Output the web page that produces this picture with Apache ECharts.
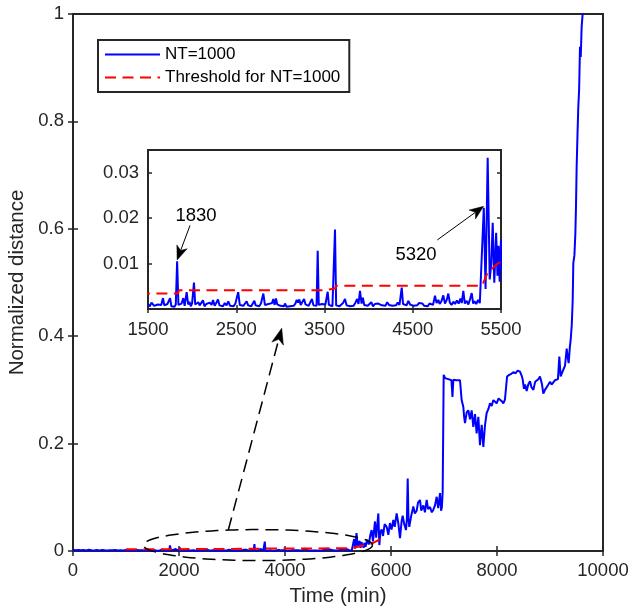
<!DOCTYPE html>
<html>
<head>
<meta charset="utf-8">
<script src="https://cdn.jsdelivr.net/npm/echarts@6/dist/echarts.min.js"></script>
<style>html,body{margin:0;padding:0;background:#fff}#c{width:628px;height:607px}</style>
</head>
<body>
<div id="c"></div>
<script>
// ---- data (time in minutes, normalized distance) ----
const ntSeries = [
[0,0.0025],[50,0.0015],[100,0.002],[150,0.0012],[200,0.0018],[250,0.001],[300,0.0022],[350,0.0014],[400,0.0009],[450,0.0017],
[500,0.0011],[550,0.002],[600,0.0013],[650,0.0008],[700,0.0016],[750,0.0012],[800,0.0021],[850,0.0009],[900,0.0015],[950,0.0011],
[1000,0.0018],[1050,0.001],[1100,0.0014],[1150,0.0008],[1200,0.0019],[1250,0.0012],[1300,0.0016],[1350,0.0007],[1400,0.0013],[1450,0.0009],
[1500,0.0011],[1520,0.0006],[1540,0.0014],[1557,0.0016],[1570,0.0007],[1590,0.0005],[1610,0.0010],[1630,0.0006],[1650,0.0009],[1670,0.0024],
[1685,0.0008],[1700,0.0006],[1720,0.0011],[1735,0.0007],[1750,0.0024],[1765,0.0006],[1780,0.0009],[1800,0.0005],[1815,0.0010],[1830,0.0105],
[1845,0.0009],[1860,0.0006],[1880,0.0012],[1900,0.0024],[1915,0.0007],[1938,0.0037],[1955,0.0010],[1970,0.0016],[1985,0.0006],[2000,0.0013],
[2021,0.0058],[2035,0.0010],[2050,0.0007],[2070,0.0015],[2085,0.0008],[2100,0.0012],[2123,0.0019],[2140,0.0006],[2160,0.0011],[2180,0.0008],
[2200,0.0014],[2220,0.0009],[2237,0.0020],[2255,0.0007],[2270,0.0012],[2293,0.0021],[2310,0.0008],[2330,0.0011],[2350,0.0006],[2370,0.0013],
[2390,0.0008],[2410,0.0017],[2430,0.0007],[2450,0.0010],[2470,0.0006],[2490,0.0012],[2505,0.0008],[2522,0.0037],[2540,0.0009],[2560,0.0013],
[2580,0.0007],[2600,0.0011],[2618,0.0017],[2635,0.0008],[2650,0.0012],[2670,0.0006],[2690,0.0010],[2705,0.0018],[2720,0.0008],[2740,0.0011],
[2760,0.0006],[2780,0.0012],[2795,0.0008],[2807,0.0034],[2825,0.0009],[2845,0.0006],[2865,0.0011],[2885,0.0008],[2905,0.0013],[2920,0.0022],
[2935,0.0009],[2950,0.0023],[2965,0.0010],[2985,0.0013],[3000,0.0007],[3020,0.0011],[3040,0.0006],[3052,0.0012],[3070,0.0005],[3090,0.0009],
[3110,0.0006],[3130,0.0010],[3150,0.0007],[3170,0.0012],[3185,0.0020],[3200,0.0014],[3215,0.0021],[3230,0.0009],[3250,0.0012],[3268,0.0022],
[3285,0.0010],[3300,0.0014],[3320,0.0007],[3340,0.0011],[3358,0.0022],[3375,0.0008],[3395,0.0010],[3410,0.0007],[3423,0.0128],[3435,0.0009],
[3450,0.0006],[3470,0.0011],[3490,0.0007],[3510,0.0010],[3536,0.0038],[3550,0.0009],[3570,0.0013],[3590,0.0006],[3605,0.0010],[3619,0.0175],
[3632,0.0008],[3650,0.0011],[3670,0.0006],[3690,0.0009],[3710,0.0013],[3732,0.0022],[3750,0.0008],[3770,0.0012],[3790,0.0006],[3810,0.0010],
[3830,0.0007],[3850,0.0014],[3870,0.0022],[3885,0.0011],[3902,0.0040],[3920,0.0012],[3935,0.0025],[3950,0.0009],[3970,0.0013],[3990,0.0007],
[4010,0.0010],[4030,0.0015],[4050,0.0006],[4070,0.0011],[4090,0.0007],[4110,0.0012],[4130,0.0016],[4150,0.0008],[4170,0.0012],[4190,0.0007],
[4210,0.0015],[4230,0.0009],[4250,0.0013],[4270,0.0007],[4290,0.0011],[4310,0.0008],[4330,0.0014],[4350,0.0009],[4375,0.0047],[4390,0.0011],
[4410,0.0015],[4430,0.0008],[4450,0.0018],[4470,0.0010],[4490,0.0014],[4510,0.0007],[4530,0.0011],[4550,0.0008],[4570,0.0013],[4590,0.0009],
[4610,0.0012],[4630,0.0007],[4650,0.0010],[4670,0.0006],[4690,0.0012],[4710,0.0015],[4730,0.0009],[4752,0.0029],[4770,0.0013],[4790,0.0020],
[4805,0.0011],[4825,0.0017],[4846,0.0030],[4865,0.0012],[4885,0.0020],[4903,0.0034],[4920,0.0014],[4940,0.0009],[4960,0.0016],[4980,0.0011],
[5000,0.0019],[5020,0.0012],[5040,0.0023],[5055,0.0013],[5073,0.0040],[5090,0.0012],[5110,0.0018],[5130,0.0010],[5150,0.0022],[5168,0.0035],
[5185,0.0012],[5200,0.0017],[5220,0.0011],[5240,0.0020],[5260,0.0013],[5281,0.0012],[5305,0.0223],[5325,0.0044],[5349,0.0333],[5372,0.0065],
[5390,0.0100],[5406,0.0190],[5424,0.0058],[5445,0.0168],[5460,0.0073],[5472,0.0139],[5485,0.0060],[5500,0.0153],[5520,0.008],[5550,0.021],
[5580,0.012],[5610,0.030],[5635,0.039],[5660,0.018],[5698,0.055],[5720,0.025],[5761,0.070],[5780,0.011],[5800,0.035],[5824,0.040],
[5850,0.028],[5880,0.050],[5918,0.045],[5950,0.030],[5980,0.052],[6010,0.040],[6044,0.058],[6070,0.045],[6107,0.070],[6140,0.050],
[6170,0.024],[6200,0.055],[6220,0.066],[6250,0.050],[6283,0.039],[6300,0.060],[6315,0.135],[6330,0.060],[6345,0.045],[6380,0.065],
[6421,0.083],[6450,0.070],[6484,0.075],[6510,0.090],[6547,0.095],[6570,0.075],[6610,0.085],[6640,0.072],[6673,0.095],[6700,0.078],
[6736,0.082],[6770,0.072],[6799,0.077],[6830,0.085],[6862,0.101],[6890,0.080],[6925,0.108],[6945,0.075],[6960,0.082],[6975,0.110],
[6994,0.328],[7020,0.322],[7050,0.325],[7080,0.320],[7110,0.322],[7140,0.318],[7160,0.287],[7176,0.319],[7200,0.316],[7230,0.318],
[7260,0.315],[7302,0.318],[7333,0.281],[7365,0.268],[7380,0.250],[7396,0.238],[7428,0.258],[7459,0.262],[7491,0.245],[7522,0.262],
[7553,0.231],[7585,0.255],[7616,0.219],[7648,0.250],[7679,0.197],[7711,0.235],[7742,0.194],[7774,0.235],[7805,0.257],[7840,0.265],
[7868,0.275],[7900,0.270],[7931,0.281],[7960,0.278],[7994,0.275],[8030,0.284],[8057,0.281],[8090,0.279],[8119,0.275],[8150,0.282],
[8182,0.285],[8190,0.325],[8230,0.328],[8270,0.330],[8308,0.333],[8350,0.331],[8390,0.336],[8434,0.334],[8470,0.325],[8484,0.320],
[8509,0.302],[8530,0.310],[8560,0.298],[8590,0.310],[8623,0.316],[8650,0.305],[8686,0.300],[8720,0.315],[8748,0.318],[8780,0.320],
[8811,0.325],[8850,0.310],[8874,0.293],[8905,0.300],[8937,0.303],[8970,0.310],[9000,0.315],[9030,0.310],[9063,0.313],[9095,0.318],
[9126,0.319],[9150,0.320],[9176,0.362],[9201,0.325],[9240,0.335],[9283,0.345],[9315,0.377],[9335,0.360],[9352,0.350],[9375,0.380],
[9390,0.393],[9410,0.420],[9428,0.466],[9440,0.536],[9460,0.550],[9478,0.590],[9490,0.640],[9503,0.716],[9520,0.780],[9534,0.827],
[9550,0.860],[9566,0.939],[9580,0.920],[9597,0.976],[9616,1.000],[9640,1.060]
];
const thresholdSeries = [
[1000,0.0034],[1840,0.0034],[1850,0.0041],[3480,0.0041],[3490,0.0045],[3620,0.0045],[3630,0.0051],[5280,0.0051],
[5300,0.0058],[5357,0.0084],[5400,0.0089],[5450,0.0098],[5500,0.0105],[5550,0.012],[5635,0.014],[5700,0.017],
[5760,0.020],[5820,0.024],[5890,0.028]
];
const mainXTicks = {min:0, max:10000, step:2000};
const mainYTicks = {min:0, max:1, step:0.2};
const insetXTicks = {min:1500, max:5500, step:1000};
const insetYTicks = {min:0, max:0.035, step:0.01};
const seriesNames = ['NT=1000', 'Threshold for NT=1000'];
const annotations = [
  {label:'1830', text:[2044,0.0206], from:[1976,0.0184], tip:[1830,0.0108]},
  {label:'5320', text:[4537,0.0120], from:[4778,0.0152], tip:[5303,0.0226]}
];

// ---- styling ----
const FONT = '"Liberation Sans", Arial, Helvetica, sans-serif';
const AX = '#262626';
const BLUE = '#0000ff', RED = '#ff0000';
const TICK = 18.5;

const chart = echarts.init(document.getElementById('c'), null, {renderer:'canvas'});

function xAx(grid, t, pos, labels, extra) {
  return Object.assign({
    type:'value', gridIndex:grid, min:t.min, max:t.max, interval:t.step, position:pos,
    axisLine:{show:false}, splitLine:{show:false},
    axisTick:{show:true, inside:true, length: grid===0?5:4, lineStyle:{color:AX, width:1.5}},
    axisLabel:{show:labels, fontSize:TICK, color:AX, fontFamily:FONT, margin:10, formatter:v=>String(v)}
  }, extra||{});
}
function yAx(grid, t, pos, labels, fmt, extra) {
  return Object.assign({
    type:'value', gridIndex:grid, min:t.min, max:t.max, interval:t.step, position:pos,
    axisLine:{show:false}, splitLine:{show:false},
    axisTick:{show:true, inside:true, length: grid===0?5:4, lineStyle:{color:AX, width:1.5}},
    axisLabel:{show:labels, fontSize:TICK, color:AX, fontFamily:FONT, margin:9, formatter:fmt}
  }, extra||{});
}

const insetData = ntSeries.filter(p => p[0] >= 1480 && p[0] <= 5520);
const insetThr = thresholdSeries.filter(p => p[0] <= 5560);

chart.setOption({
  animation:false,
  backgroundColor:'#fff',
  textStyle:{fontFamily:FONT},
  grid:[
    {left:73, top:14, width:530, height:537, show:true, borderColor:AX, borderWidth:2, backgroundColor:'transparent', z:0,
     containLabel:false, outerBoundsMode:'none'},
    {left:148, top:150, width:353, height:159, show:true, borderColor:AX, borderWidth:2, backgroundColor:'#fff', z:5,
     containLabel:false, outerBoundsMode:'none'}
  ],
  xAxis:[
    xAx(0, mainXTicks, 'bottom', true, {name:'Time (min)', nameLocation:'middle', nameGap:35,
        nameTextStyle:{fontSize:20.5, color:AX, fontFamily:FONT}}),
    xAx(0, mainXTicks, 'top', false),
    xAx(1, insetXTicks, 'bottom', true, {z:6, axisLabel:{show:true, fontSize:TICK, color:AX, fontFamily:FONT, margin:11, formatter:v=>String(v)}}),
    xAx(1, insetXTicks, 'top', false, {z:6})
  ],
  yAxis:[
    yAx(0, mainYTicks, 'left', true, v=>String(+v.toFixed(1)), {name:'Normalized distance', nameLocation:'middle', nameGap:40,
        nameTextStyle:{fontSize:20.5, color:AX, fontFamily:FONT}}),
    yAx(0, mainYTicks, 'right', false, null),
    yAx(1, insetYTicks, 'left', true, v=>{ const r=Math.round(v*100); return (r===0 || Math.abs(v*100-r)>1e-6) ? '' : (r/100).toFixed(2); }, {z:6}),
    yAx(1, insetYTicks, 'right', false, null, {z:6})
  ],
  legend:{
    orient:'vertical', left:98, top:40, padding:[6,9,6,6], itemGap:6, itemWidth:55, itemHeight:14,
    backgroundColor:'#fff', borderColor:AX, borderWidth:2, borderRadius:0,
    data:seriesNames,
    itemStyle:{color:'rgba(0,0,0,0)', borderWidth:0, opacity:0},
    textStyle:{fontSize:17, color:'#000', fontFamily:FONT, lineHeight:17}
  },
  series:[
    {name:seriesNames[0], type:'line', xAxisIndex:0, yAxisIndex:0, data:ntSeries, symbol:'none', clip:true,
     lineStyle:{color:BLUE, width:2}, itemStyle:{color:BLUE}, z:2},
    {name:seriesNames[1], type:'line', xAxisIndex:0, yAxisIndex:0, data:thresholdSeries, symbol:'none', clip:true,
     lineStyle:{color:RED, width:2, type:[11,6.5]}, itemStyle:{color:RED}, z:3},
    {name:'inset-nt', type:'line', xAxisIndex:2, yAxisIndex:2, data:insetData, symbol:'none', clip:true,
     lineStyle:{color:BLUE, width:2}, itemStyle:{color:BLUE}, z:7},
    {name:'inset-thr', type:'line', xAxisIndex:2, yAxisIndex:2, data:insetThr, symbol:'none', clip:true,
     lineStyle:{color:RED, width:2, type:[11,6.5]}, itemStyle:{color:RED}, z:8}
  ]
});

// ---- annotations (anchored to data coordinates) ----
function arrow(from, tip, L, W, dash, z) {
  const dx = tip[0]-from[0], dy = tip[1]-from[1], len = Math.hypot(dx,dy);
  const ux = dx/len, uy = dy/len, px = -uy, py = ux;
  const bx = tip[0]-ux*L, by = tip[1]-uy*L;
  const nx = tip[0]-ux*L*0.72, ny = tip[1]-uy*L*0.72;
  return [
    {type:'line', z:z, shape:{x1:from[0], y1:from[1], x2:nx, y2:ny},
     style:{stroke:'#000', lineWidth:dash?1.5:1, lineDash:dash||null}},
    {type:'polygon', z:z, shape:{points:[tip,[bx+px*W,by+py*W],[nx,ny],[bx-px*W,by-py*W]]},
     style:{fill:'#000', stroke:'#000', lineWidth:0.5}}
  ];
}
const g = [];
const insetPx = p => chart.convertToPixel({xAxisIndex:2, yAxisIndex:2}, p);
const mainPx = p => chart.convertToPixel({xAxisIndex:0, yAxisIndex:0}, p);
annotations.forEach(a => {
  const tp = insetPx(a.text);
  g.push({type:'text', z:20, x:tp[0], y:tp[1], style:{text:a.label, fontSize:TICK, fontFamily:FONT, fill:'#000', align:'center', verticalAlign:'middle'}});
  g.push(...arrow(insetPx(a.from), insetPx(a.tip), 14, 5.5, null, 20));
});
// dashed ellipse around the zoomed region
const eL = mainPx([1330, 0.011]), eR = mainPx([5650, 0.011]);
const cx = (eL[0]+eR[0])/2, cy = eL[1], rx = (eR[0]-eL[0])/2, ry = 15.5;
const pts = [];
for (let i = 0; i <= 120; i++) { const a = i/120*Math.PI*2; pts.push([cx+rx*Math.cos(a), cy+ry*Math.sin(a)]); }
g.push({type:'polyline', z:20, shape:{points:pts}, style:{stroke:'#000', fill:null, lineWidth:1.5, lineDash:[13,7]}});
// dashed arrow from ellipse to inset
g.push(...arrow(mainPx([2930, 0.039]), mainPx([3938, 0.415]), 16, 6, [13,7], 20));
chart.setOption({graphic:g});
</script>
</body>
</html>
